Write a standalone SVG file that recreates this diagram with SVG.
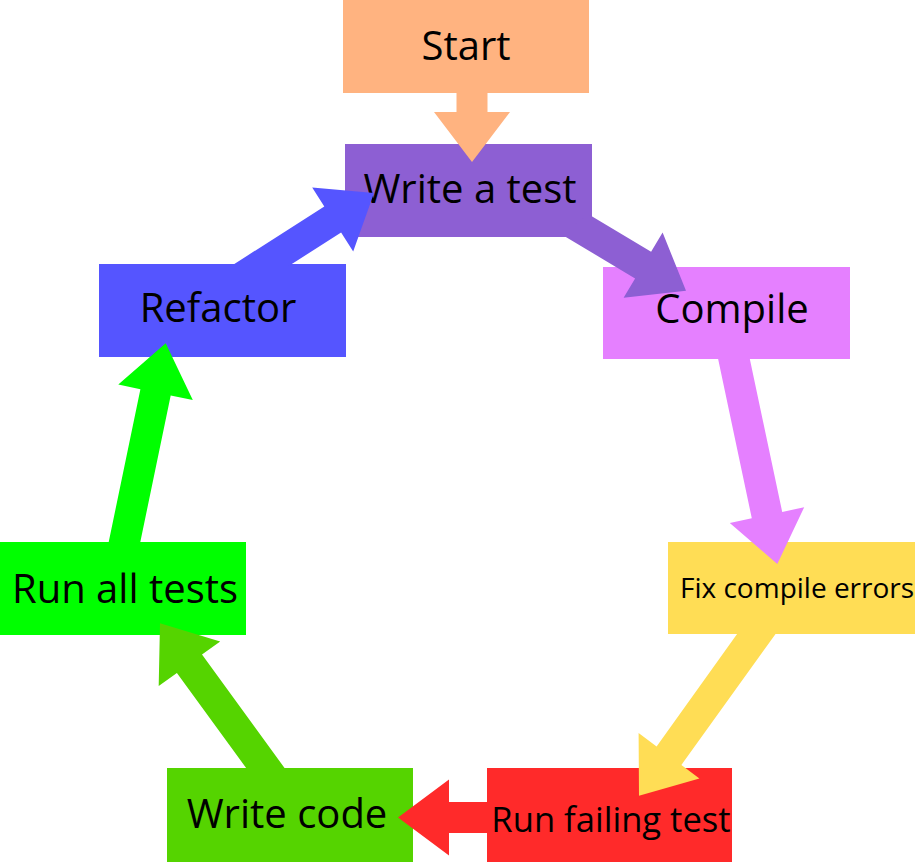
<svg xmlns="http://www.w3.org/2000/svg" width="915" height="862" viewBox="0 0 915 862">
<style>
text{font-family:"Open Sans","Liberation Sans",sans-serif;fill:#000;}
.lbl{font-size:40px;text-anchor:middle;}
.sm{font-size:28px;}
.md{font-size:34.6px;text-anchor:middle;}
.start{fill:#FFB380;}
.write-test{fill:#8D5FD3;}
.refactor{fill:#5555FF;}
.compile{fill:#E580FF;}
.fix{fill:#FFDD55;}
.fail{fill:#FF2A2A;}
.code{fill:#55D400;}
.all{fill:#00FF00;}
</style>
<rect width="915" height="862" fill="#fff"/>
<g id="node-start"><rect class="start" x="343" y="0" width="246" height="93"/><text class="lbl" x="466" y="60">Start</text></g>
<g id="node-write-a-test"><rect class="write-test" x="345" y="144" width="247" height="93"/><text class="lbl" x="470" y="203">Write a test</text></g>
<g id="node-compile"><rect class="compile" x="603" y="267" width="247" height="92"/><text class="lbl" x="732" y="323">Compile</text></g>
<g id="node-fix-compile-errors"><rect class="fix" x="668" y="542" width="247" height="92"/><text class="sm" x="680" y="598">Fix compile errors</text></g>
<g id="node-run-failing-test"><rect class="fail" x="487" y="768" width="245" height="94"/><text class="md" x="611" y="832">Run failing test</text></g>
<g id="node-write-code"><rect class="code" x="167" y="768" width="246" height="94"/><text class="lbl" x="287" y="828">Write code</text></g>
<g id="node-run-all-tests"><rect class="all" x="0" y="542" width="246" height="93"/><text class="lbl" x="125" y="603">Run all tests</text></g>
<g id="node-refactor"><rect class="refactor" x="99" y="264" width="247" height="93"/><text class="lbl" x="218" y="322">Refactor</text></g>
<g id="connectors">
<polygon class="start" points="456.5,90 487.5,90 487.5,112 510,112 472,162 434,112 456.5,112"/>
<polygon class="write-test" points="588,214.1 651.1,251.8 662.6,232.5 686,290.7 623.6,297.7 635.1,278.4 562.5,235"/>
<polygon class="compile" points="717.7,357 749.4,357 782.2,511.9 804.2,507.2 777.3,564 729.8,523 751.8,518.3"/>
<polygon class="fix" points="738.5,632 777,632 681.4,764.9 699.4,778.4 639,795.7 638.6,732.9 656.6,746.4"/>
<polygon class="fail" points="490,802 490,833 449,833 449,855.5 398,817.5 449,779.5 449,802"/>
<polygon class="code" points="247.6,770 286,770 202,654.6 220.2,641.4 160,623.3 158.7,686.1 176.9,672.9"/>
<polygon class="all" points="108.5,543 140.1,543 170.7,395.4 192.8,400 165.7,343.3 118.3,384.6 140.4,389.2"/>
<polygon class="refactor" points="231.2,266 324.3,206.4 312.2,187.4 374,193 353.2,251.4 341.1,232.5 288.7,266"/>
</g>
</svg>
